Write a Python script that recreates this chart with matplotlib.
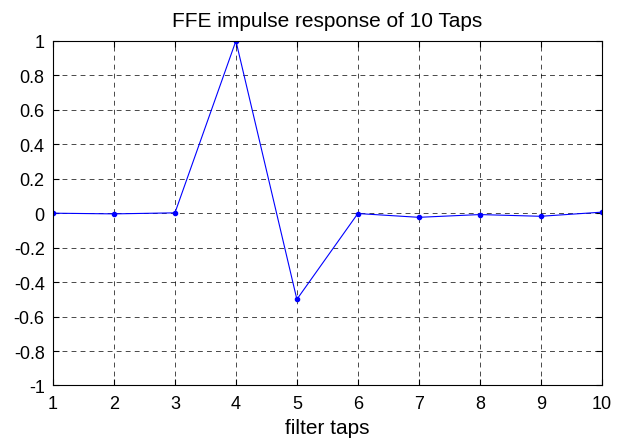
import matplotlib
matplotlib.use("Agg")
import matplotlib.pyplot as plt

# tap index and FFE impulse response values
taps = [1, 2, 3, 4, 5, 6, 7, 8, 9, 10]
response = [0.0, -0.004, 0.002, 1.0, -0.5, -0.002, -0.024, -0.008, -0.018, 0.006]
xticks = [1, 2, 3, 4, 5, 6, 7, 8, 9, 10]
yticks = [-1, -0.8, -0.6, -0.4, -0.2, 0, 0.2, 0.4, 0.6, 0.8, 1]

plt.rcParams['font.family'] = ['Liberation Sans', 'DejaVu Sans']

fig = plt.figure(figsize=(6.29, 4.39), dpi=100)
ax = fig.add_axes([0.0843, 0.1196, 0.8723, 0.785])

ax.plot(taps, response, color='blue', linewidth=0.8, marker='o', markersize=3)

ax.set_xlim(1, 10)
ax.set_ylim(-1, 1)
ax.set_xticks(xticks)
ax.set_yticks(yticks)
ax.set_yticklabels([f"{v:g}" for v in yticks])
ax.grid(True, color='black', linestyle=(0, (7, 6)), linewidth=0.5)
ax.tick_params(direction='in', labelsize=13, length=4, top=True, right=True)
ax.tick_params(axis='x', pad=7)
ax.tick_params(axis='y', pad=6)
for s in ax.spines.values():
    s.set_linewidth(0.8)

ax.set_title("FFE impulse response of 10 Taps", fontsize=15, pad=11)
ax.set_xlabel("filter taps", fontsize=15, labelpad=4.5)

fig.savefig("out.png", dpi=100)
